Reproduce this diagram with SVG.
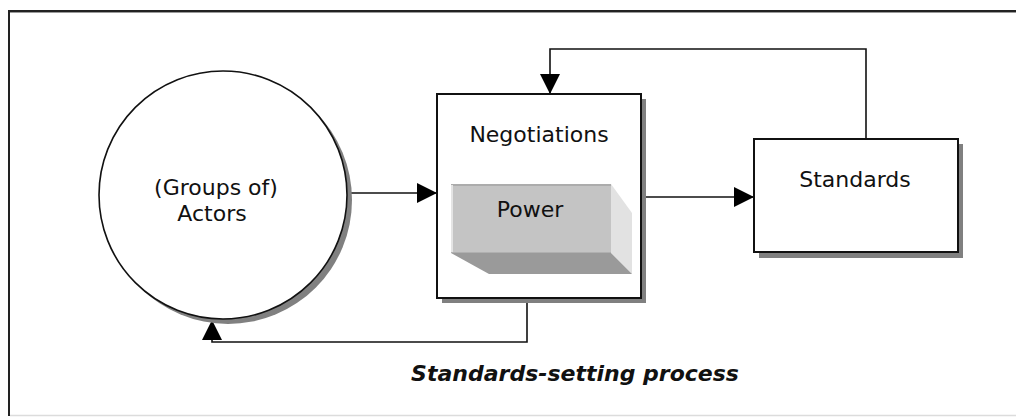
<svg xmlns="http://www.w3.org/2000/svg" width="1016" height="417" viewBox="0 0 1016 417">
  <style>
    .lbl { font-family: "DejaVu Sans", Verdana, sans-serif; font-size: 22px; fill: #111; text-anchor: middle; }
    .cap { font-family: "DejaVu Sans", Verdana, sans-serif; font-size: 22px; font-weight: bold; font-style: italic; fill: #111; text-anchor: middle; }
    .shape { fill: #fff; stroke: #111; stroke-width: 2; }
    .shadow { fill: #808080; }
    .wire { fill: none; stroke: #111; stroke-width: 1.6; }
  </style>
  <defs>
    <marker id="arrow" markerUnits="userSpaceOnUse" markerWidth="20" markerHeight="20" viewBox="0 0 20 20" refX="20" refY="10" orient="auto">
      <path d="M0,0 L20,10 L0,20 Z" fill="#000"/>
    </marker>
  </defs>

  <rect width="1016" height="417" fill="#fff"/>

  <!-- outer frame -->
  <g id="frame">
    <line x1="8" y1="11" x2="1016" y2="11" stroke="#222" stroke-width="2"/>
    <line x1="8" y1="12.5" x2="1016" y2="12.5" stroke="#9a9a9a" stroke-width="1"/>
    <line x1="9" y1="10" x2="9" y2="416" stroke="#222" stroke-width="2"/>
    <line x1="10" y1="415.5" x2="1016" y2="415.5" stroke="#dcdcdc" stroke-width="1.5"/>
  </g>

  <!-- connectors -->
  <g id="connectors">
    <line class="wire" x1="347" y1="193" x2="437" y2="193" marker-end="url(#arrow)"/>
    <line class="wire" x1="641" y1="197" x2="754" y2="197" marker-end="url(#arrow)"/>
    <polyline class="wire" points="866,139 866,49 550,49 550,94" marker-end="url(#arrow)"/>
    <polyline class="wire" points="527,298 527,342 212,342 212,320" marker-end="url(#arrow)"/>
  </g>

  <!-- actors -->
  <g id="actors">
    <circle class="shadow" cx="228" cy="200" r="124"/>
    <circle cx="223" cy="195" r="124" fill="#fff" stroke="#111" stroke-width="1.6"/>
    <text class="lbl" x="216" y="195">(Groups of)</text>
    <text class="lbl" x="212" y="221">Actors</text>
  </g>

  <!-- negotiations, with the power block inside -->
  <g id="negotiations">
    <rect class="shadow" x="442" y="99" width="204" height="204"/>
    <rect class="shape" x="437" y="94" width="204" height="204"/>
    <text class="lbl" x="539" y="142">Negotiations</text>
    <g id="power">
      <polygon points="611,184 632,213 632,274 611,253" fill="#e2e2e2"/>
      <polygon points="451,253 611,253 632,274 489,274" fill="#9a9a9a"/>
      <rect x="451" y="184" width="160" height="69" fill="#c4c4c4"/>
      <line x1="451" y1="185" x2="611" y2="185" stroke="#acacac" stroke-width="2"/>
      <line x1="452" y1="185" x2="452" y2="253" stroke="#e4e4e4" stroke-width="2"/>
      <line x1="451" y1="252.5" x2="611" y2="252.5" stroke="#b0b0b0" stroke-width="1"/>
      <text class="lbl" x="530" y="217">Power</text>
    </g>
  </g>

  <!-- standards -->
  <g id="standards">
    <rect class="shadow" x="759" y="144" width="204" height="114"/>
    <rect class="shape" x="754" y="139" width="204" height="113"/>
    <text class="lbl" x="855" y="187">Standards</text>
  </g>

  <g id="caption">
    <text class="cap" x="575" y="381">Standards-setting process</text>
  </g>
</svg>
